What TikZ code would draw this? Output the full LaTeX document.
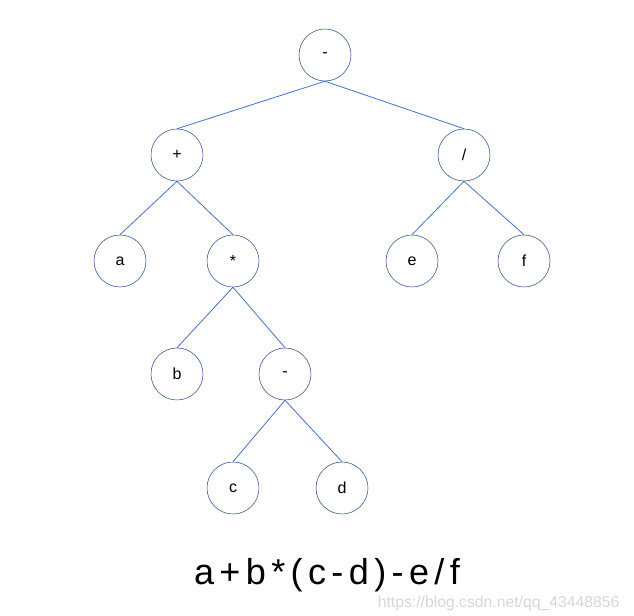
\documentclass[tikz,border=0pt]{standalone}
\usepackage{fontspec}
\setmainfont{Liberation Sans}
\newfontfamily\widefont[LetterSpace=15]{Liberation Sans}
\usetikzlibrary{positioning}
\definecolor{EdgeBlue}{RGB}{68,114,196}
\definecolor{RimBlue}{RGB}{47,82,143}
\definecolor{MarkGray}{RGB}{215,215,215}
\begin{document}
\begin{tikzpicture}[x=.75pt,y=-.75pt,
  tnode/.style={circle,draw=RimBlue,fill=white,minimum size=39pt,inner sep=0pt,font=\fontsize{12}{14}\selectfont},
  tedge/.style={EdgeBlue,line width=.6pt}]
\useasboundingbox (0,0) rectangle (634,616);
\node[tnode] (root) at (325,55){-};
\node[tnode] (plus) at (177,155){+};\node[tnode] (div) at (464,155){/};
\node[tnode] (a) at (120,261){a};\node[tnode] (mul) at (233,261){*};
\node[tnode] (e) at (412,261){e};\node[tnode] (f) at (524,261){f};
\node[tnode] (b) at (177,374){b};\node[tnode] (sub) at (285,374){-};
\node[tnode] (c) at (233,488){c};\node[tnode] (d) at (342,488){d};
\foreach \p/\q in {root/plus,root/div,plus/a,plus/mul,div/e,div/f,mul/b,mul/sub,sub/c,sub/d}
  \draw[tedge] (\p.south)--(\q.north);
\node[font=\widefont\fontsize{27}{30}\selectfont] (expr) at (327,575){a+b*(c-d)-e/f};
\node[MarkGray,font=\fontsize{11.8}{13}\selectfont,anchor=east] (mark) at (624,603){https://blog.csdn.net/qq\_43448856};
\end{tikzpicture}
\end{document}
